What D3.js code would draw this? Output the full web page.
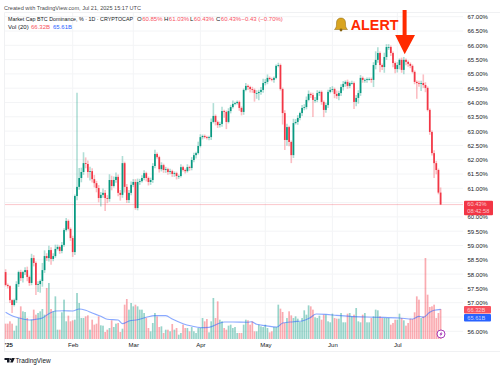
<!DOCTYPE html>
<html>
<head>
<meta charset="utf-8">
<script src="https://cdn.jsdelivr.net/npm/d3@7"></script>
<style>
  html, body { margin: 0; padding: 0; background: #fff; }
  svg { display: block; font-family: "Liberation Sans", sans-serif; }
  .tick line, .domain { display: none; }
</style>
</head>
<body>
<svg id="chart"></svg>
<script>
// daily closes, Jan 1 - Jul 21 2025
const firstOpen = 58.07;
const closes = [
  57.62,57.58,57.09,56.92,57.09,57.65,58.07,57.86,58.07,58.14,
  57.90,57.69,58.56,58.39,57.62,57.65,57.76,58.14,58.63,58.56,
  58.84,58.53,58.63,58.88,58.95,58.81,59.02,59.54,59.86,59.58,
  59.26,58.77,60.73,61.05,61.36,61.57,61.88,61.85,61.57,61.60,
  61.32,61.18,61.01,60.66,60.77,60.84,60.66,60.63,61.29,61.08,
  61.29,61.40,60.84,60.77,61.88,61.05,60.59,60.84,61.12,61.22,
  60.31,61.22,61.25,61.36,61.53,61.36,61.22,61.29,61.78,62.20,
  62.09,61.67,61.81,61.64,61.67,61.57,61.60,61.50,61.53,61.43,
  61.43,61.74,61.64,61.60,61.74,61.71,61.99,62.16,62.23,62.48,
  62.79,62.83,62.79,62.76,62.79,63.32,63.53,63.32,63.21,63.25,
  63.70,63.67,63.32,63.70,63.84,63.95,63.98,64.02,63.81,63.67,
  64.44,64.58,64.54,64.47,64.44,64.33,64.33,64.37,64.44,64.68,
  64.72,64.86,64.82,64.79,64.86,65.28,65.31,64.47,63.63,62.69,
  63.14,62.62,62.16,63.28,63.32,63.46,63.63,63.81,63.84,64.09,
  64.30,64.26,64.09,64.09,64.33,64.37,64.02,63.74,63.91,64.37,
  64.44,64.47,64.30,64.23,64.33,64.54,64.65,64.72,64.58,64.68,
  64.68,64.02,64.16,64.33,64.86,64.79,64.79,64.82,64.82,64.79,
  65.31,65.49,65.73,65.31,65.24,65.59,65.94,65.94,65.73,65.38,
  65.17,65.31,65.49,65.14,65.49,65.42,65.35,65.28,65.07,64.72,
  64.68,64.65,64.68,64.61,64.51,63.74,62.97,62.23,61.88,61.64,
  60.85,60.43
];
// wick length above / below the candle body, in percentage points
const wickUp = [
  .1,.05,.03,.03,.05,.1,.05,.08,.05,.1,
  .12,.05,.15,.1,.05,.1,.05,.25,.2,.1,
  .15,.1,.1,.15,.08,.05,.1,.06,.1,.05,
  .05,.08,.05,3.29,.35,.15,.38,.2,.12,.15,
  .1,.15,.08,.1,.1,.15,.1,.1,.2,.15,
  .12,.15,.08,.1,.25,.05,.1,.1,.12,.1,
  .1,.12,.08,.1,.1,.05,.05,.08,.1,.15,
  .05,.05,.1,.05,.08,.05,.08,.05,.06,.05,
  .05,.1,.05,.05,.1,.05,.1,.08,.05,.15,
  .1,.05,.05,.05,.05,.12,.45,.05,.05,.08,
  .15,.05,.05,.1,.08,.12,.05,.05,.05,.05,
  .05,.1,.05,.05,.08,.05,.1,.08,.1,.15,
  .1,.12,.05,.05,.05,.05,.08,.05,.05,.1,
  .12,.05,.05,.15,.1,.1,.05,.1,.1,.12,
  .12,.05,.08,.1,.1,.05,.05,.05,.08,.08,
  .1,.1,.05,.12,.08,.1,.1,.05,.08,.05,
  .08,.05,.1,.1,.1,.05,.05,.05,.05,.05,
  .1,.3,.2,.05,.05,.15,.1,.1,.05,.05,
  .05,.1,.05,.08,.1,.05,.05,.05,.05,.05,
  .05,.08,.08,.3,.1,.05,.05,.05,.1,.08,
  .05,.18
];
const wickDown = [
  .05,.08,.1,.28,.05,.1,.1,.1,.15,.1,
  .15,.1,.08,.12,.35,.25,.3,.2,.1,.1,
  .12,.2,.08,.06,.05,.1,.08,.06,.05,.05,
  .1,.17,.1,.15,.1,.15,.1,.15,.2,.3,
  .12,.15,.15,.15,.3,.1,.45,.15,.1,.15,
  .05,.1,.12,.2,.1,.2,.1,.1,.08,.08,
  .06,.08,.1,.05,.08,.12,.12,.1,.1,.08,
  .06,.12,.08,.1,.1,.1,.08,.1,.1,.12,
  .1,.05,.05,.08,.05,.1,.08,.08,.12,.05,
  .05,.08,.05,.05,.08,.1,.05,.12,.1,.08,
  .1,.2,.25,.05,.08,.05,.05,.05,.1,.12,
  .1,.05,.1,.12,.1,.3,.2,.25,.1,.1,
  .08,.08,.05,.05,.1,.05,.05,.05,.4,.35,
  .2,.15,.28,.1,.05,.1,.08,.1,.08,.08,
  .05,.1,.6,.1,.08,.1,.1,.25,.1,.1,
  .05,.08,.15,.1,.15,.1,.12,.1,.1,.08,
  .05,.25,.15,.2,.1,.1,.1,.1,.05,.1,
  .25,.15,.1,.25,.1,.2,.1,.1,.1,.15,
  .15,.12,.15,.1,.15,.12,.1,.08,.05,.08,
  .55,.1,.25,.1,.15,.05,.1,.08,.52,.15,
  .06,0
];
// volume in billions
const volumes = [
  33.9,33.9,39.1,33.9,18.4,29.5,46.4,72.2,61.2,59.7,
  46.4,18.4,42.7,64.9,53.8,57.5,61.2,66.3,53.8,112.8,
  123.8,66.3,61.2,94.3,20.6,20.6,59,87,39.1,51.6,
  39.1,41.3,42.7,101.7,79.6,46.4,46.4,50.1,52.3,20.6,
  42.7,31.7,33.9,50.1,30.2,29.5,15.5,20.6,24.3,41.3,
  26.5,33.9,35.4,15.5,22.8,75.9,88.4,64.9,79.6,72.2,
  75.9,72.2,64.9,64.9,57.5,46.4,24.3,17,35.4,57.5,
  50.1,26.5,28,13.3,20.6,20.6,17,33.2,20.6,24.3,
  9.6,13.3,31.7,24.3,24.3,17,26.5,17,13.3,24.3,
  24.3,46.4,39.1,44.2,14.7,39.1,90.7,46.4,83.3,42.7,
  39.1,24.3,20.6,29.5,31.7,24.3,26.5,13.3,13.3,13.3,
  31.7,42.7,41.3,31.7,39.1,17,17,31.7,28,26.5,
  31.7,24.3,14.7,17,26.5,26.5,75.9,67.1,59.7,35.4,
  46.4,61.2,52.3,46.4,50.1,45,37.6,46.4,63.4,53.8,
  74.4,72.2,64.9,47.9,46.4,51.6,42.7,53.8,53.8,39.1,
  36.9,56,46.4,45,45,57.5,36.9,36.9,56,57.5,
  50.1,53.8,68.5,39.1,36.9,53.8,57.5,36.9,36.9,46.4,
  50.1,64.9,63.4,50.1,46.4,46.4,46.4,46.4,31.7,35.4,
  42.7,42.7,56,46.4,41.3,29.5,35.4,45,44.2,59,
  94.3,87,46.4,50.1,179.1,98,70.8,72.2,75.9,46.4,
  57.5,66.32
];
// Vol(20) moving average, read at these day numbers
const maDays = [0,2,5,8,11,14,17,20,23,27,31,34,37,40,44,47,52,54,57,61,65,69,74,77,82,86,90,94,99,101,105,112,
  113.5,116,120,125.5,128,133,137.4,140.5,143.5,148,153,159,166.7,174,182,188,191,193,196,198,201];
const maValues = [59,53.8,47.9,44.2,42,43.5,46.4,56,61.9,62.6,61.9,66.3,63.4,57.5,50.1,43.5,42,33.9,39.8,42.7,47.9,51.6,51.6,44.2,33.9,28.7,25.1,25.8,35.4,37.6,37.6,36.9,
  38.3,32.4,29.5,26.5,35.4,38.3,40.5,46.4,55.3,54.5,52.3,50.1,48.6,47.9,46.4,44.2,50.1,47.9,59,63.4,65.61];

const priceTicks = d3.range(56, 67.01, 0.5);
const hiddenPriceLabels = [56.5]; // sits behind the volume tags
const monthDays = [0, 31, 59, 90, 120, 151, 181];
const monthLabels = ["'25", "Feb", "Mar", "Apr", "May", "Jun", "Jul"];
const legendParts = [["O", "60.85%", 137], ["H", "61.03%", 164], ["L", "60.43%", 190], ["C", "60.43%", 216]];

const width = 500, height = 368;
const upColor = "#089981", downColor = "#F23645";
const svg = d3.select('#chart').attr('width', width).attr('height', height);

// scales
const x = d3.scaleLinear().domain([0, 201]).range([5.6, 440.6]);
const y = d3.scaleLinear().domain([56, 67]).range([331.3, 16.7]);
const yVol = d3.scaleLinear().domain([0, 179.1]).range([339, 258]);

const candles = closes.map((c, i) => {
    const o = i === 0 ? firstOpen : closes[i - 1];
    return { i, o, c, h: Math.max(o, c) + wickUp[i], l: Math.min(o, c) - wickDown[i], v: volumes[i], color: c >= o ? upColor : downColor };
});

// frame and grid
const grid = svg.append("g").attr("stroke", "#f3f4f6").attr("stroke-width", 1);
grid.selectAll(".h").data(priceTicks).enter().append("line")
    .attr("x1", 5).attr("x2", 463)
    .attr("y1", d => y(d)).attr("y2", d => y(d));
grid.selectAll(".v").data(monthDays.slice(1)).enter().append("line")
    .attr("x1", d => x(d)).attr("x2", d => x(d))
    .attr("y1", 13).attr("y2", 340);
const frame = svg.append("g").attr("stroke", "#f0f1f3").attr("stroke-width", 1);
frame.append("line").attr("x1", 4.5).attr("x2", 500).attr("y1", 12.5).attr("y2", 12.5);
frame.append("line").attr("x1", 4.5).attr("x2", 4.5).attr("y1", 12.5).attr("y2", 352);
frame.append("line").attr("x1", 4.5).attr("x2", 500).attr("y1", 351.5).attr("y2", 351.5);

// volume bars
svg.append("g").selectAll("rect").data(candles).enter().append("rect")
    .attr("x", d => x(d.i) - 0.85)
    .attr("width", 1.7)
    .attr("y", d => yVol(d.v))
    .attr("height", d => yVol(0) - yVol(d.v))
    .attr("fill", d => d.color)
    .attr("fill-opacity", 0.42);

// volume moving average
svg.append("path")
    .attr("d", d3.line().x(d => x(d)).y((d, i) => yVol(maValues[i])).curve(d3.curveMonotoneX)(maDays))
    .attr("fill", "none").attr("stroke", "#2962FF").attr("stroke-opacity", 0.55).attr("stroke-width", 1.1);

// last price line
svg.append("line")
    .attr("x1", 5).attr("x2", 463)
    .attr("y1", y(60.43)).attr("y2", y(60.43))
    .attr("stroke", "#F23645").attr("stroke-opacity", 0.28).attr("stroke-width", 1);

// candles
const candle = svg.append("g");
candle.selectAll("line").data(candles).enter().append("line")
    .attr("x1", d => x(d.i)).attr("x2", d => x(d.i))
    .attr("y1", d => y(d.h)).attr("y2", d => y(d.l))
    .attr("stroke", d => d.color).attr("stroke-opacity", 0.32).attr("stroke-width", 1.6);
candle.selectAll("rect").data(candles).enter().append("rect")
    .attr("x", d => x(d.i) - 0.85)
    .attr("width", 1.7)
    .attr("y", d => y(Math.max(d.o, d.c)))
    .attr("height", d => Math.max(0.8, Math.abs(y(d.o) - y(d.c))))
    .attr("fill", d => d.color);

// axes
const yAxis = svg.append("g")
    .attr("transform", "translate(462,0)")
    .call(d3.axisRight(y).tickValues(priceTicks).tickSize(0).tickPadding(5.5)
        .tickFormat(d => hiddenPriceLabels.includes(d) ? "" : d.toFixed(2) + "%"));
yAxis.selectAll("text").attr("font-size", 6).attr("font-family", "Liberation Sans").attr("fill", "#131722");
const xAxis = svg.append("g")
    .attr("transform", "translate(0,343)")
    .call(d3.axisBottom(x).tickValues(monthDays).tickSize(0).tickPadding(0).tickFormat((d, i) => monthLabels[i]));
xAxis.selectAll("text").attr("font-size", 6).attr("font-family", "Liberation Sans").attr("fill", "#131722").attr("dy", "0.6em");
xAxis.selectAll("text").filter((d, i) => i === 0).attr("text-anchor", "start").attr("dx", -1.4).attr("font-weight", 700);

// price and volume tags
function tag(yTop, h, w, fill, lines) {
    svg.append("rect").attr("x", 464).attr("y", yTop).attr("width", w).attr("height", h).attr("rx", 1).attr("fill", fill);
    lines.forEach((t, i) => svg.append("text")
        .attr("x", 467.3).attr("y", yTop + 5.7 + i * 6.4)
        .attr("font-size", 5.7).attr("fill", "#fff").attr("fill-opacity", 0.72).text(t));
}
tag(200.7, 14.5, 29, "#F23645", ["60.43%", "08:42:58"]);
tag(306, 7.6, 27, "#F7525F", ["66.32B"]);
tag(314, 7.6, 27, "#2962FF", ["65.61B"]);

// header text, squeezed to the widths in the picture
svg.append("text").attr("x", 4).attr("y", 9.5).attr("font-size", 6.2).attr("fill", "#131722").attr("fill-opacity", 0.85)
    .attr("textLength", 137).attr("lengthAdjust", "spacingAndGlyphs")
    .text("Created with TradingView.com, Jul 21, 2025 15:17 UTC");
svg.append("text").attr("x", 8).attr("y", 21.2).attr("font-size", 6.2).attr("fill", "#131722")
    .attr("textLength", 125).attr("lengthAdjust", "spacingAndGlyphs")
    .text("Market Cap BTC Dominance, % · 1D · CRYPTOCAP");
legendParts.forEach(p => {
    const t = svg.append("text").attr("x", p[2]).attr("y", 21.2).attr("font-size", 6).attr("fill", "#131722");
    t.append("tspan").text(p[0]);
    t.append("tspan").attr("fill", "#F7525F").attr("dx", 0.5).text(p[1]);
});
svg.append("text").attr("x", 241.5).attr("y", 21.2).attr("font-size", 6).attr("fill", "#F7525F").text("−0.43 (−0.70%)");
svg.append("text").attr("x", 8).attr("y", 29).attr("font-size", 6).attr("fill", "#131722").text("Vol (20)");
svg.append("text").attr("x", 31).attr("y", 29).attr("font-size", 6).attr("fill", "#F7525F").text("66.32B");
svg.append("text").attr("x", 53).attr("y", 29).attr("font-size", 6).attr("fill", "#2962FF").text("65.61B");

// alert annotation
const bell = svg.append("g").attr("transform", "translate(341,24)");
bell.append("path")
    .attr("d", "M-6.5,5.5 C-4.5,3.5 -4.5,2 -4.5,-1 C-4.5,-4.5 -2.5,-6 0,-6 C2.5,-6 4.5,-4.5 4.5,-1 C4.5,2 4.5,3.5 6.5,5.5 Z")
    .attr("fill", "#d9a520").attr("stroke", "#8a6510").attr("stroke-width", 0.5);
bell.append("circle").attr("cx", 0).attr("cy", 6).attr("r", 1.4).attr("fill", "#8a6510");
svg.append("text").attr("x", 350.8).attr("y", 29.5).attr("font-size", 14.3).attr("font-weight", 700)
    .attr("fill", "#FF2A00").text("ALERT");
svg.append("path")
    .attr("d", "M402.6,10 L406.6,10 L406.6,35 L415,35 L404.7,54.3 L395.2,35 L402.6,35 Z")
    .attr("fill", "#FF2A00");

// lightning badge
const badge = svg.append("g").attr("transform", "translate(441,334)");
badge.append("circle").attr("r", 4).attr("fill", "#fff").attr("stroke", "#9C27B0").attr("stroke-width", 0.9);
badge.append("path").attr("d", "M0.8,-2.6 L-1.6,0.4 L-0.2,0.4 L-0.8,2.6 L1.6,-0.5 L0.2,-0.5 Z").attr("fill", "#9C27B0");

// logo
svg.append("path").attr("d", "M4.5,358 H9.5 V362.5 H7 V360 H4.5 Z M12,358 H14.8 L12.8,362.5 H10.2 Z M10.6,358.2 a.9,.9 0 1,0 .01,0")
    .attr("fill", "#131722");
svg.append("text").attr("x", 15.4).attr("y", 362.6).attr("font-size", 6.4).attr("fill", "#131722").text("TradingView");
</script>
</body>
</html>
